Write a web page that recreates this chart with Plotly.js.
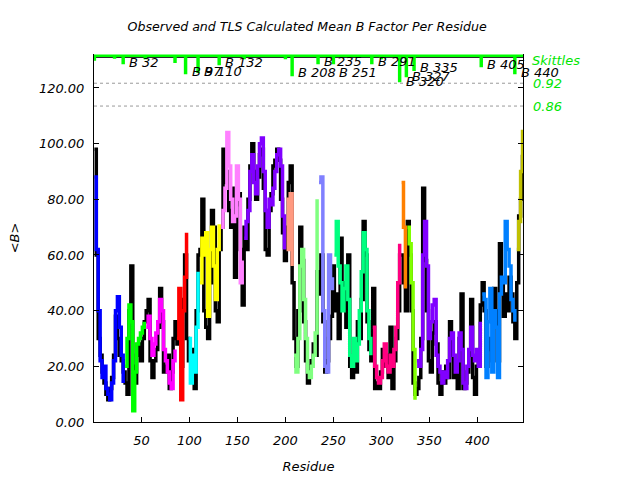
<!DOCTYPE html>
<html>
<head>
<meta charset="utf-8">
<script src="https://cdn.plot.ly/plotly-3.0.1.min.js"></script>
<style>
  html, body { margin: 0; padding: 0; background: #fff; }
  #chart { width: 640px; height: 480px; }
</style>
</head>
<body>
<div id="chart"></div>
<script>
// --- dados (um valor a cada 2 resíduos) ---

const residueStart = 1;
const residueStep = 2;

// <B> observado (linha preta)
const observedB = [
  98, 60, 30, 24, 18, 14, 10, 8, 12, 16, 24, 38, 30, 24, 22, 18,
  14, 10, 40, 56, 20, 14, 24, 28, 22, 30, 36,
  40, 44, 22, 16, 22, 26, 34, 48, 36, 18, 20, 24, 12, 18, 30, 36,
  28, 34, 20, 44, 60, 30,
  22, 26, 20, 12, 40, 60,
  62, 80, 40, 34, 30, 50, 76, 70, 40, 36, 62,
  70, 98, 86, 90, 76, 70, 84, 52, 78, 82, 62, 42,
  70, 62, 80, 92, 100, 90, 80, 88, 96, 98, 84, 62, 60, 76, 82, 92, 94, 98, 94, 80, 68, 58,
  70, 86, 92, 50,
  30, 20, 40, 70, 58, 36, 22, 14, 20, 22, 28, 24, 54,
  46, 60, 36, 18, 22, 30, 38, 56,
  40, 46, 30, 66, 46, 50, 34, 60, 20, 16, 24, 18, 36, 30, 44, 72, 60, 36, 26, 22,
  48, 12, 14, 12, 18, 26, 20, 24, 16, 34, 12, 22, 30, 40, 60,
  60, 50, 40,
  72, 60, 40, 14, 10,
  12, 16, 30, 84, 58, 40, 22, 18, 32, 36, 28, 14, 10, 18, 14, 20, 16, 36, 24, 16,
  20, 12, 30, 46, 12, 14, 18, 24, 44, 16, 10, 20, 24, 42,
  50, 40, 20, 30, 26, 22, 48, 40, 22, 64, 50, 38, 46, 40, 52, 46, 36, 30,
  50, 74, 80, 96
];

// <B> calculado pelo TLS (linhas coloridas, um segmento por cor)
const tlsB = [
  88, 62, 40, 22, 16, 20, 12, 10, 8, 14, 22, 40, 45, 34, 24, 14,
  20, 30, 42, 36, 4, 18, 28, 30, 32, 34, 36,
  34, 38, 30, 24, 28, 32, 36, 44, 40, 26, 22, 18, 14, 12, 22, 26,
  30, 48, 8, 40, 52, 68,
  30, 14, 24, 18, 34, 54,
  50, 66, 60, 68, 38, 62, 70, 56, 44, 62, 71,
  70, 76, 84, 104, 92, 80, 72, 74, 92, 80, 50, 58,
  66, 72, 76, 90, 96, 86, 82, 92, 100, 102, 90, 76, 70, 80, 78, 84, 90, 96, 98, 92, 74, 62,
  80, 62, 82, 56,
  24, 18, 30, 56, 62, 44, 30, 18, 16, 20, 24, 32, 80,
  86, 88, 40, 20, 18, 60, 48, 52,
  60, 72, 56, 50, 40, 48, 56, 44, 24, 20, 30, 22, 28, 40, 54, 68, 62, 40, 30, 24,
  34, 20, 16, 14, 16, 22, 28, 20, 18, 24, 20, 26, 34, 50, 64,
  86, 70, 48,
  70, 64, 50, 26, 8,
  22, 20, 26, 60, 72, 56, 30, 36, 42, 44, 24, 20, 18, 14, 18, 16, 22, 30, 32, 24,
  18, 22, 32, 26, 14, 12, 20, 26, 34, 24, 22, 26, 20, 36,
  46, 44, 16, 36, 48, 18, 40, 34, 16, 46, 52, 50, 72, 62, 56, 44, 40, 36,
  62, 72, 90, 105
];

const segmentStarts = [1, 33, 55, 87, 99, 111, 133, 157, 201, 209, 235, 251, 291, 321, 327, 337, 405, 441];
const segmentColors = [
  "#0000ff", "#00ff00", "#ff00ff", "#ff0000", "#00ffff", "#ffff00",
  "#ff80ff", "#8000ff", "#ff9980", "#80ff80", "#8080ff", "#00ff80",
  "#ff0080", "#ff8000", "#80ff00", "#8000ff", "#0080ff", "#c0c000"
];

// linha "Skittles" no topo
const skittlesTop = 131.6;
const labelledDips = [32, 97, 110, 132, 208, 235, 251, 291, 320, 327, 335, 405, 440];
const labelledDepth = [129.0, 125.4, 125.8, 128.6, 124.7, 129.0, 129.0, 129.0, 122.5, 124.3, 126.5, 127.9, 125.4];
const labelY = [129.1, 125.8, 125.8, 129.0, 125.4, 129.4, 125.4, 129.4, 122.3, 124.0, 127.2, 128.3, 125.4];
const otherDips = [1, 22, 54, 85, 157, 200, 300];
const otherDepth = [130.2, 130.9, 130.8, 129.4, 130.8, 130.8, 130.8];

const thresholdValues = [121.7, 113.5];
const thresholdLabels = ["0.92", "0.86"];

// --- montagem ---

const residues = observedB.map((_, i) => residueStart + i * residueStep);
const fonte = { family: "DejaVu Sans", size: 13, color: "#000", style: "italic" };
const verde = "#00e600";

const traces = [];

traces.push({
  x: residues,
  y: observedB,
  type: "scatter",
  mode: "lines",
  line: { color: "#000", width: 3.5, shape: "hv" },
  hoverinfo: "skip",
});

segmentStarts.forEach((start, k) => {
  const end = k + 1 < segmentStarts.length ? segmentStarts[k + 1] : Infinity;
  const xs = [];
  const ys = [];
  residues.forEach((r, i) => {
    if (r >= start && r < end) {
      xs.push(r);
      ys.push(tlsB[i]);
    }
  });
  traces.push({
    x: xs,
    y: ys,
    type: "scatter",
    mode: "lines",
    line: { color: segmentColors[k], width: 3.5, shape: "hv" },
    hoverinfo: "skip",
  });
});

// Skittles: linha no topo com quedas nos limites dos segmentos
const dips = labelledDips.map((r, i) => [r - 1, labelledDepth[i]])
  .concat(otherDips.map((r, i) => [r, otherDepth[i]]))
  .sort((a, b) => a[0] - b[0]);
const skX = [0.6];
const skY = [skittlesTop];
dips.forEach(([r, d]) => {
  skX.push(r - 0.5, r - 0.5, r + 0.5, r + 0.5);
  skY.push(skittlesTop, d, d, skittlesTop);
});
skX.push(447.5);
skY.push(skittlesTop);

traces.push({
  x: skX,
  y: skY,
  type: "scatter",
  mode: "lines",
  line: { color: "#00ff00", width: 2.5 },
  hoverinfo: "skip",
});

const annotations = labelledDips.map((r, i) => ({
  x: r,
  y: labelY[i],
  xref: "x",
  yref: "y",
  text: "B " + r,
  showarrow: false,
  xanchor: "left",
  yanchor: "middle",
  xshift: 3,
  font: fonte,
}));

annotations.push({
  x: 1, xref: "paper", y: 129.7, yref: "y",
  text: "Skittles", showarrow: false, xanchor: "left", yanchor: "middle", xshift: 7,
  font: { ...fonte, color: verde },
});
thresholdValues.forEach((v, i) => {
  annotations.push({
    x: 1, xref: "paper", y: v, yref: "y",
    text: thresholdLabels[i], showarrow: false, xanchor: "left", yanchor: "middle", xshift: 8,
    font: { ...fonte, color: verde },
  });
});

const shapes = thresholdValues.map((v) => ({
  type: "line", xref: "paper", x0: 0, x1: 1, yref: "y", y0: v, y1: v,
  line: { color: "#999", width: 1, dash: "dot" },
  layer: "below",
}));
// borda superior do quadro, por baixo da linha verde
shapes.push({
  type: "line", xref: "paper", x0: 0, x1: 1, yref: "y", y0: 131.0, y1: 131.0,
  line: { color: "#000", width: 1 },
  layer: "below",
});

const layout = {
  width: 640,
  height: 480,
  paper_bgcolor: "#fff",
  plot_bgcolor: "#fff",
  showlegend: false,
  font: fonte,
  title: {
    text: "Observed and TLS Calculated Mean B Factor Per Residue",
    font: { ...fonte, size: 12.6 },
    x: 0.48,
    xanchor: "center",
    y: 0.944,
    yanchor: "middle",
  },
  margin: { l: 94, r: 117, t: 54, b: 58, pad: 0 },
  xaxis: {
    range: [0.6, 447.5],
    tickvals: [50, 100, 150, 200, 250, 300, 350, 400],
    ticks: "inside",
    ticklen: 5,
    tickcolor: "#000",
    showline: true,
    linecolor: "#000",
    linewidth: 1,
    showgrid: false,
    zeroline: false,
    tickfont: fonte,
    ticklabelstandoff: 6,
    title: { text: "Residue", font: fonte, standoff: 15 },
  },
  yaxis: {
    range: [0, 132.2],
    tickvals: [0, 20, 40, 60, 80, 100, 120],
    tickformat: ".2f",
    ticks: "inside",
    ticklen: 5,
    tickcolor: "#000",
    showline: true,
    mirror: "ticks",
    linecolor: "#000",
    linewidth: 1,
    showgrid: false,
    zeroline: false,
    tickfont: fonte,
    ticklabelstandoff: 6,
    title: { text: "&lt;B&gt;", font: fonte, standoff: 16 },
  },
  annotations: annotations,
  shapes: shapes,
};

Plotly.newPlot("chart", traces, layout, { displayModeBar: false, staticPlot: true });
</script>
</body>
</html>
